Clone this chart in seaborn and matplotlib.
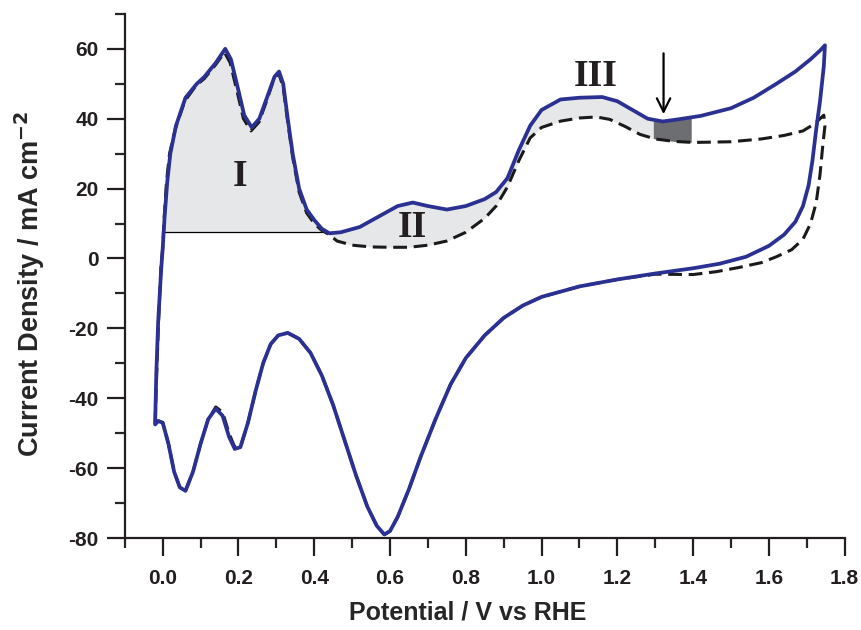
import numpy as np
import matplotlib
matplotlib.use('Agg')
import matplotlib.pyplot as plt
import seaborn as sns
from matplotlib.ticker import MultipleLocator

sns.set_style('ticks')
plt.rcParams['font.family'] = ['Liberation Sans', 'DejaVu Sans']
plt.rcParams['font.weight'] = 'bold'
plt.rcParams['axes.unicode_minus'] = False

# blue curve (solid), anodic then cathodic sweep
blue_anodic_x = [-0.02, -0.017, -0.012, -0.004, 0.0, 0.005, 0.012, 0.02, 0.035, 0.06, 0.09, 0.11, 0.14,
                 0.165, 0.18, 0.2, 0.215, 0.235, 0.255, 0.275, 0.295, 0.307, 0.318, 0.33, 0.343, 0.36,
                 0.38, 0.40, 0.42, 0.44, 0.47, 0.52, 0.57, 0.62, 0.66, 0.70, 0.75, 0.80, 0.85, 0.88,
                 0.91, 0.94, 0.97, 1.0, 1.05, 1.1, 1.16, 1.2, 1.24, 1.28, 1.32, 1.36, 1.42, 1.5, 1.56,
                 1.62, 1.67, 1.71, 1.735, 1.748]
blue_anodic_y = [-47, -33, -18, -3, 3, 12, 22, 30, 38, 46, 50, 52, 56,
                 60, 57, 48, 41, 37.5, 40, 46, 52, 53.5, 50, 40, 30, 20,
                 14, 11, 8.5, 7.2, 7.5, 9, 12, 15, 16, 15, 14, 15, 17, 19,
                 23, 31, 38, 42.5, 45.5, 46, 46.2, 45, 42.5, 40, 39.2, 39.8, 40.8, 43, 46,
                 50, 53.5, 57, 59.5, 61]
blue_cathodic_x = [1.745, 1.735, 1.725, 1.715, 1.705, 1.69, 1.67, 1.64, 1.6, 1.54, 1.47, 1.4, 1.3, 1.2,
                   1.1, 1.0, 0.95, 0.9, 0.85, 0.8, 0.76, 0.72, 0.68, 0.65, 0.62, 0.6, 0.585, 0.565,
                   0.54, 0.51, 0.48, 0.45, 0.42, 0.39, 0.36, 0.33, 0.305, 0.285, 0.265, 0.245, 0.225,
                   0.205, 0.19, 0.175, 0.158, 0.14, 0.12, 0.1, 0.08, 0.06, 0.045, 0.03, 0.015, 0.0,
                   -0.012, -0.02]
blue_cathodic_y = [55, 45, 37, 28, 21, 15, 10.5, 6.8, 3.6, 0.5, -1.5, -2.8, -4.3, -6,
                   -8, -11, -13.5, -17, -22, -28.5, -36, -46, -57, -66, -74, -78, -79, -76.5,
                   -71, -62, -52, -42, -33.5, -27, -23, -21.3, -22, -24.5, -30, -38, -47,
                   -54, -54.5, -51, -45, -43, -46, -53, -61, -66.5, -65.5, -61, -53, -47,
                   -46.5, -47.5]

# black curve (dashed), anodic then cathodic sweep
black_anodic_x = [-0.02, -0.016, -0.011, -0.005, 0.0, 0.004, 0.01, 0.018, 0.033, 0.058, 0.088, 0.11,
                  0.14, 0.163, 0.178, 0.198, 0.213, 0.233, 0.254, 0.274, 0.294, 0.306, 0.318, 0.33,
                  0.343, 0.36, 0.38, 0.40, 0.42, 0.44, 0.46, 0.5, 0.55, 0.6, 0.65, 0.7, 0.75, 0.8,
                  0.85, 0.88, 0.91, 0.94, 0.97, 1.0, 1.05, 1.1, 1.145, 1.18, 1.22, 1.26, 1.3, 1.35,
                  1.4, 1.5, 1.58, 1.64, 1.69, 1.72, 1.745]
black_anodic_y = [-47, -33, -18, -3, 3, 12, 22, 30, 37, 45, 49.5, 51.5,
                  55.5, 59, 56, 47, 40, 36.5, 39, 45, 51.5, 53, 49, 39,
                  29, 19, 13, 10, 8, 6.8, 5, 3.8, 3.3, 3.2, 3.2, 3.8, 5, 7.5,
                  11.5, 15, 20.5, 28, 34.5, 37.5, 39.3, 40.2, 40.5, 39.8, 37.8, 35.5, 34.2, 33.5,
                  33.2, 33.4, 34.2, 35.2, 36.5, 38.5, 41]
black_cathodic_x = [1.748, 1.742, 1.735, 1.725, 1.71, 1.69, 1.66, 1.62, 1.58, 1.52, 1.46, 1.4, 1.3,
                    1.2, 1.1, 1.0, 0.95, 0.9, 0.85, 0.8, 0.76, 0.72, 0.68, 0.65, 0.62, 0.6, 0.585,
                    0.565, 0.54, 0.51, 0.48, 0.45, 0.42, 0.39, 0.36, 0.33, 0.305, 0.285, 0.265, 0.245,
                    0.225, 0.205, 0.19, 0.175, 0.158, 0.14, 0.12, 0.1, 0.08, 0.06, 0.045, 0.03, 0.015,
                    0.0, -0.012, -0.02]
black_cathodic_y = [38, 32, 24, 16, 10, 5.5, 2.5, 0.5, -1.2, -2.6, -3.8, -4.6, -4.5,
                    -6, -8, -11, -13.5, -17, -22, -28.5, -36, -46, -57, -66, -74, -78, -79,
                    -76.5, -71, -62, -52, -42, -33.5, -27, -23, -21.3, -22, -24.5, -30, -38,
                    -47, -54, -54, -50, -44, -42.5, -46, -53, -61, -66.5, -65.5, -61, -53,
                    -47, -46.5, -47.5]

baseline_I = 7.7
labels = ['I', 'II', 'III']
label_x = [0.203, 0.66, 1.142]
label_y = [23.5, 8.9, 52.2]

fig = plt.figure(figsize=(8.61, 6.3), dpi=100)
ax = fig.add_axes([0.145, 0.146, 0.836, 0.832])

# shaded charge regions
bx = np.array(blue_anodic_x)
by = np.array(blue_anodic_y)
grid = np.linspace(0.0, 0.43, 200)
ax.fill_between(grid, np.interp(grid, bx, by), baseline_I, color='#e6e7e8', lw=0, zorder=1)
grid = np.linspace(0.43, 1.30, 400)
ax.fill_between(grid, np.interp(grid, bx, by), np.interp(grid, black_anodic_x, black_anodic_y),
                color='#e6e7e8', lw=0, zorder=1)
grid = np.linspace(1.295, 1.395, 50)
ax.fill_between(grid, np.interp(grid, bx, by), np.interp(grid, black_anodic_x, black_anodic_y),
                color='#6d6e71', lw=0, zorder=1)
ax.plot([0.0, 0.42], [baseline_I, baseline_I], color='black', lw=0.9, zorder=2)

black_x = black_anodic_x + black_cathodic_x
black_y = black_anodic_y + black_cathodic_y
blue_x = blue_anodic_x + blue_cathodic_x
blue_y = blue_anodic_y + blue_cathodic_y
sns.lineplot(x=black_x, y=black_y, sort=False, estimator=None, color='#1a1a1a', lw=2.2,
             linestyle=(0, (4.5, 2.2)), ax=ax, zorder=3)
sns.lineplot(x=blue_x, y=blue_y, sort=False, estimator=None, color='#2b3192', lw=2.7, ax=ax, zorder=4)

for t, x, y in zip(labels, label_x, label_y):
    ax.text(x, y, t, ha='center', va='center', fontsize=27, fontweight='bold',
            family='Liberation Serif', color='#231f20', zorder=5)

ax.annotate('', xy=(1.322, 40.5), xytext=(1.322, 59.5),
            arrowprops=dict(arrowstyle='->', color='black', lw=1.6, mutation_scale=24), zorder=5)

ax.set_xlim(-0.1, 1.8)
ax.set_ylim(-80, 70)
ax.xaxis.set_minor_locator(MultipleLocator(0.1))
ax.yaxis.set_minor_locator(MultipleLocator(10))
ax.set_xticks(np.arange(0, 1.81, 0.2))
ax.set_xticklabels(['%.1f' % v for v in np.arange(0, 1.81, 0.2)])
ax.set_yticks(np.arange(-80, 61, 20))
ax.tick_params(which='major', length=13, width=1.6, labelsize=15, colors='#231f20', pad=6)
ax.tick_params(axis='x', which='major', pad=9)
ax.tick_params(which='minor', length=7, width=1.6)
for lab in ax.get_xticklabels() + ax.get_yticklabels():
    lab.set_fontweight('bold')
for s in ['left', 'bottom']:
    ax.spines[s].set_linewidth(1.6)
    ax.spines[s].set_color('#231f20')
sns.despine(ax=ax)

ax.set_xlabel('Potential / V vs RHE', fontsize=18, fontweight='bold')
ax.set_ylabel('Current Density / mA cm$^{\\mathbf{-2}}$', fontsize=19.5, fontweight='bold')
ax.xaxis.set_label_coords(0.476, -0.12)
ax.yaxis.set_label_coords(-0.108, 0.485)

fig.savefig('out.png', dpi=100)
